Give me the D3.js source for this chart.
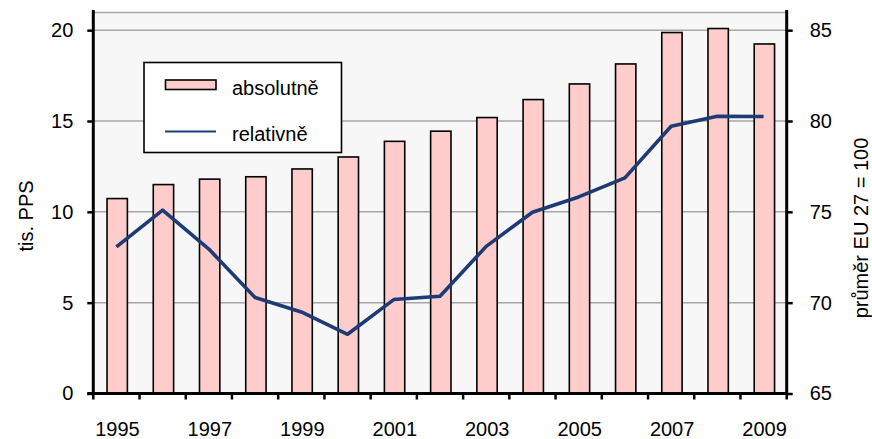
<!DOCTYPE html>
<html><head><meta charset="utf-8">
<script src="https://cdn.jsdelivr.net/npm/d3@7"></script>
<style>
html,body{margin:0;padding:0;background:#fff;}
svg{display:block;font-family:"Liberation Sans",Arial,sans-serif;}
</style></head>
<body><svg id="c" width="872" height="439"></svg>
<script>
const years = [1995,1996,1997,1998,1999,2000,2001,2002,2003,2004,2005,2006,2007,2008,2009];
const absolutne = [10.73,11.5,11.8,11.93,12.36,13.02,13.88,14.44,15.19,16.18,17.04,18.14,19.87,20.09,19.24];
const relativne = [73.07,75.09,72.95,70.28,69.49,68.26,70.17,70.35,73.1,74.98,75.82,76.87,79.71,80.26,80.25];
const leftTicks = [0,5,10,15,20];
const rightTicks = [65,70,75,80,85];
const xLabels = [1995,1997,1999,2001,2003,2005,2007,2009];
const legendLabels = ["absolutně","relativně"];
const leftTitle = "tis. PPS";
const rightTitle = "průměr EU 27 = 100";

const svg = d3.select("#c");
const L = 93.3, R = 786.7, T = 12, B = 393.5;

const x = d3.scaleBand().domain(years).range([L, R]).padding(0);
const yL = d3.scaleLinear().domain([0,21]).range([B, T]);
const yR = d3.scaleLinear().domain([65,86]).range([B, T]);

// plot background
svg.append("rect").attr("x",L).attr("y",T).attr("width",R-L).attr("height",B-T).attr("fill","#f7f7f7");
// top border
svg.append("line").attr("x1",L).attr("x2",R).attr("y1",T+0.5).attr("y2",T+0.5).attr("stroke","#a6a6a6").attr("stroke-width",1.5);
// gridlines
svg.append("g").selectAll("line").data(leftTicks.filter(d=>d>0)).join("line")
  .attr("x1",L).attr("x2",R).attr("y1",d=>yL(d)).attr("y2",d=>yL(d))
  .attr("stroke","#a6a6a6").attr("stroke-width",1.5);

// bars
const bw = x.bandwidth()*0.44;
svg.append("g").selectAll("rect").data(years).join("rect")
  .attr("x",(d)=>x(d)+x.bandwidth()/2-bw/2+0.8)
  .attr("width",bw)
  .attr("y",(d,i)=>yL(absolutne[i]))
  .attr("height",(d,i)=>B-yL(absolutne[i]))
  .attr("fill","#ffcccc").attr("stroke","#000").attr("stroke-width",1.6);

// line
const line = d3.line().x((d,i)=>x(years[i])+x.bandwidth()/2).y(d=>yR(d));
svg.append("path").datum(relativne).attr("d",line)
  .attr("fill","none").attr("stroke","#1f3b75").attr("stroke-width",3.6).attr("stroke-linejoin","round");

// axes
const fs = 20;
// left axis
const gl = svg.append("g").attr("transform",`translate(${L},0)`)
  .call(d3.axisLeft(yL).tickValues(leftTicks).tickSize(6).tickPadding(14).tickFormat(d3.format("d")));
gl.select(".domain").remove();
gl.selectAll(".tick line").attr("stroke","#000").attr("stroke-width",2.5);
gl.selectAll("text").attr("font-size",fs).attr("font-family","Liberation Sans, Arial, sans-serif").attr("fill","#000");
svg.append("line").attr("x1",L).attr("x2",L).attr("y1",T-2).attr("y2",B+1).attr("stroke","#000").attr("stroke-width",3);

// right axis
const gr = svg.append("g").attr("transform",`translate(${R},0)`)
  .call(d3.axisRight(yR).tickValues(rightTicks).tickSize(6).tickPadding(17).tickFormat(d3.format("d")));
gr.select(".domain").remove();
gr.selectAll(".tick line").attr("stroke","#000").attr("stroke-width",2.5);
gr.selectAll("text").attr("font-size",fs).attr("font-family","Liberation Sans, Arial, sans-serif").attr("fill","#000");
svg.append("line").attr("x1",R).attr("x2",R).attr("y1",T-2).attr("y2",B+1).attr("stroke","#000").attr("stroke-width",3);

// bottom axis
svg.append("line").attr("x1",L-6).attr("x2",R).attr("y1",B).attr("y2",B).attr("stroke","#000").attr("stroke-width",3);
const bounds = years.map(d=>x(d)).concat([R]);
svg.append("g").selectAll("line").data(bounds).join("line")
  .attr("x1",d=>d).attr("x2",d=>d).attr("y1",B).attr("y2",B+6)
  .attr("stroke","#000").attr("stroke-width",2.5);
svg.append("g").selectAll("text").data(xLabels).join("text")
  .attr("x",d=>x(d)+x.bandwidth()/2+1).attr("y",436)
  .attr("text-anchor","middle").attr("font-size",fs).attr("fill","#000").text(d=>d);

// axis titles
svg.append("text").attr("transform","translate(33,216) rotate(-90)")
  .attr("text-anchor","middle").attr("font-size",fs).attr("fill","#000").text(leftTitle);
svg.append("text").attr("transform","translate(868,228) rotate(-90)")
  .attr("text-anchor","middle").attr("font-size",fs).attr("fill","#000").text(rightTitle);

// legend
const lg = svg.append("g");
lg.append("rect").attr("x",144).attr("y",62.5).attr("width",197.5).attr("height",90)
  .attr("fill","#fff").attr("stroke","#000").attr("stroke-width",1.6);
lg.append("rect").attr("x",165.5).attr("y",80).attr("width",50.5).attr("height",9.5)
  .attr("fill","#ffcccc").attr("stroke","#000").attr("stroke-width",1.6);
lg.append("line").attr("x1",165).attr("x2",216).attr("y1",131.5).attr("y2",131.5)
  .attr("stroke","#1f3b75").attr("stroke-width",2);
lg.selectAll("text").data(legendLabels).join("text")
  .attr("x",232).attr("y",(d,i)=>i===0?94.5:140.5)
  .attr("font-size",20).attr("fill","#000").text(d=>d);
</script></body></html>
